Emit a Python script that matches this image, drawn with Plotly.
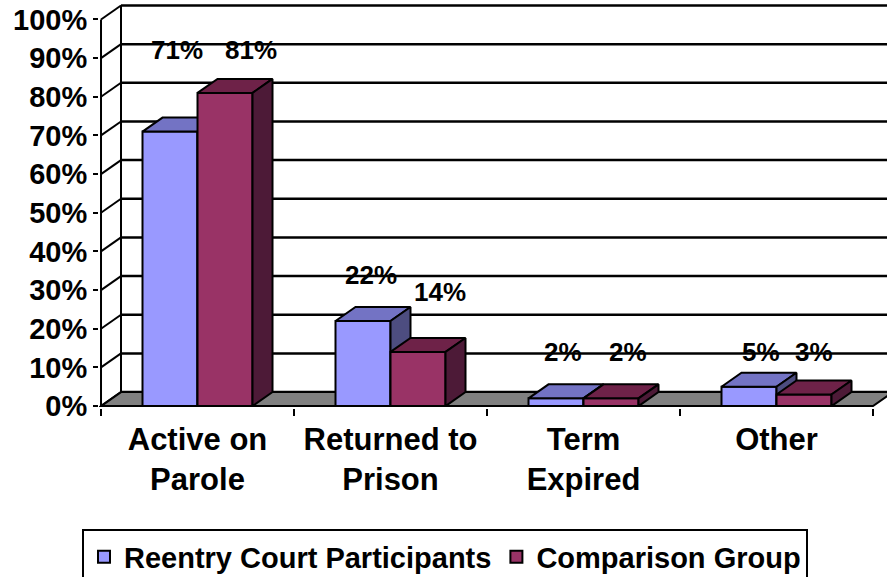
import plotly.graph_objects as go

# ---- data ----
categories = ["Active on<br>Parole", "Returned to<br>Prison", "Term<br>Expired", "Other"]
series_names = ["Reentry Court Participants", "Comparison Group"]
reentry = [71, 22, 2, 5]
comparison = [81, 14, 2, 3]
y_ticks = [0, 10, 20, 30, 40, 50, 60, 70, 80, 90, 100]
y_tick_labels = ["0%", "10%", "20%", "30%", "40%", "50%", "60%", "70%", "80%", "90%", "100%"]
# label positions (as placed in the original chart)
label_x = [[-0.106, 0.899, 1.894, 2.920], [0.277, 1.256, 2.231, 3.194]]
label_y = [[92.1, 34.0, 14.1, 14.1], [92.1, 29.6, 14.1, 14.1]]

# ---- styling / geometry ----
FONT = "Liberation Sans, Arial, sans-serif"
W = 0.285      # bar width (category units)
DX = 0.1036    # depth offset x (category units)
DY = 3.62      # depth offset y (percent units)
front_cols = ["#9999FF", "#993366"]
top_cols = ["#7373C4", "#6E2248"]
side_cols = ["#4D4D80", "#4D1A37"]
offsets = [-W, 0.0]
XMIN, XMAX = -0.5104, 3.5725
YMIN, YMAX = -0.5, 104.0
PLOT_H = 404.4

def b(t):
    return "<b>" + t.replace("<br>", "</b><br><b>") + "</b>"

fig = go.Figure()
axes = [("x", "y"), ("x2", "y2")]
for s, vals in enumerate([reentry, comparison]):
    xa, ya = axes[s]
    fig.add_trace(go.Bar(
        x=list(range(len(categories))), y=vals, name=b(series_names[s]),
        width=W, offset=offsets[s],
        marker=dict(color=front_cols[s], line=dict(color="black", width=2)),
        xaxis=xa, yaxis=ya, hoverinfo="skip"))
    for i, v in enumerate(vals):
        x0 = i + offsets[s]
        x1 = x0 + W
        fig.add_trace(go.Scatter(
            x=[x0, x1, x1 + DX, x0 + DX, x0], y=[v, v, v + DY, v + DY, v],
            mode="lines", fill="toself", fillcolor=top_cols[s],
            line=dict(color="black", width=2), showlegend=False,
            xaxis=xa, yaxis=ya, hoverinfo="skip"))
        fig.add_trace(go.Scatter(
            x=[x1, x1, x1 + DX, x1 + DX, x1], y=[0, v, v + DY, DY, 0],
            mode="lines", fill="toself", fillcolor=side_cols[s],
            line=dict(color="black", width=2), showlegend=False,
            xaxis=xa, yaxis=ya, hoverinfo="skip"))

shapes = []
for t in y_ticks:
    shapes.append(dict(type="line", xref="x", yref="y", layer="below",
                       x0=-0.5 + DX, x1=XMAX + 1, y0=t + DY, y1=t + DY,
                       line=dict(color="black", width=2.5)))
    shapes.append(dict(type="line", xref="x", yref="y", layer="below",
                       x0=-0.5, x1=-0.5 + DX, y0=t, y1=t + DY,
                       line=dict(color="black", width=2)))
shapes.append(dict(type="line", xref="x", yref="y", layer="below",
                   x0=-0.5 + DX, x1=-0.5 + DX, y0=DY, y1=100 + DY,
                   line=dict(color="black", width=2)))
n = len(categories)
shapes.append(dict(type="path", xref="x", yref="y", layer="below",
                   path=f"M {-0.5} 0 L {n - 0.5} 0 L {n - 0.5 + DX} {DY} L {-0.5 + DX} {DY} Z",
                   fillcolor="#808080", line=dict(color="black", width=2)))
shapes.append(dict(type="line", xref="x", yref="y", layer="below",
                   x0=-0.5, x1=-0.5, y0=0, y1=100,
                   line=dict(color="black", width=2)))
fig.update_layout(shapes=shapes)

annotations = []
for s, vals in enumerate([reentry, comparison]):
    for i, v in enumerate(vals):
        annotations.append(dict(x=label_x[s][i], y=label_y[s][i], xref="x", yref="y",
                                text=b(f"{v}%"), showarrow=False,
                                font=dict(family=FONT, size=26, color="black")))
fig.update_layout(annotations=annotations)

fig.update_layout(
    width=887, height=577,
    margin=dict(l=99, r=0, t=4, b=577 - 4 - PLOT_H, autoexpand=False),
    paper_bgcolor="white", plot_bgcolor="rgba(0,0,0,0)",
    barmode="overlay",
    font=dict(family=FONT, color="black"),
    xaxis=dict(range=[XMIN, XMAX], tickmode="array", tickvals=list(range(n)),
               ticktext=[b(c) for c in categories], ticks="", showgrid=False,
               zeroline=False, showline=False, automargin=False,
               tickfont=dict(size=31), ticklabelstandoff=10,
               minor=dict(ticks="outside", tick0=-0.5, dtick=1, ticklen=7,
                          tickwidth=2, tickcolor="black", showgrid=False)),
    yaxis=dict(range=[YMIN, YMAX], tickmode="array", tickvals=y_ticks,
               ticktext=[b(t) for t in y_tick_labels], ticks="outside", ticklen=5,
               tickwidth=2, tickcolor="black", showgrid=False, zeroline=False,
               showline=False, automargin=False, tickfont=dict(size=29)),
    xaxis2=dict(overlaying="x", matches="x", visible=False),
    yaxis2=dict(overlaying="y", matches="y", visible=False),
    legend=dict(orientation="h", x=-0.0216, y=(408.4 - 530) / PLOT_H,
                xanchor="left", yanchor="top",
                bordercolor="black", borderwidth=2,
                font=dict(family=FONT, size=29, color="black"),
                itemwidth=30, tracegroupgap=0),
    showlegend=True,
)

fig.write_html("out.html", config={"displayModeBar": False},
               post_script="document.body.style.margin='0';")
